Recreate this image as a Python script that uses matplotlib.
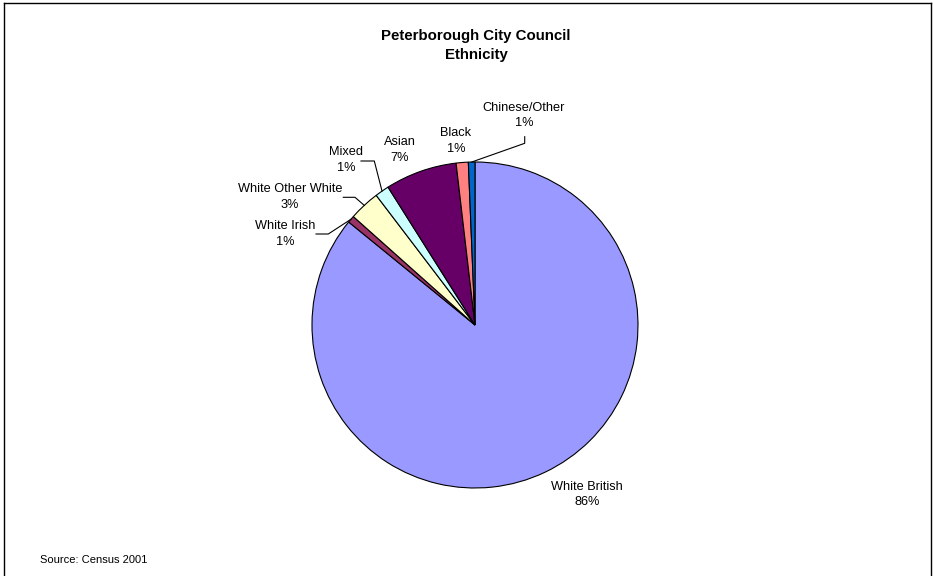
import numpy as np
import matplotlib
matplotlib.use("Agg")
import matplotlib.pyplot as plt
from matplotlib.lines import Line2D

plt.rcParams['font.family'] = ['Liberation Sans', 'DejaVu Sans']

categories = ["White British", "White Irish", "White Other White", "Mixed", "Asian", "Black", "Chinese/Other"]
values = [85.8, 0.7, 3.05, 1.4, 7.1, 1.2, 0.65]
pct_labels = ["86%", "1%", "3%", "1%", "7%", "1%", "1%"]
colors = ["#9999FF", "#993366", "#FFFFCC", "#CCFFFF", "#660066", "#FF8080", "#0066CC"]

W, H = 933, 576
fig = plt.figure(figsize=(W / 100, H / 100), dpi=100)
fig.patch.set_facecolor("white")

# frame border
fig.add_artist(Line2D([4 / W, 4 / W], [0, 1 - 3 / H], transform=fig.transFigure, color="black", lw=1))
fig.add_artist(Line2D([4 / W, 931 / W], [1 - 3 / H, 1 - 3 / H], transform=fig.transFigure, color="black", lw=1))
fig.add_artist(Line2D([931 / W, 931 / W], [0, 1 - 3 / H], transform=fig.transFigure, color="black", lw=1))

cx, cy, r = 475, 325, 163
ax = fig.add_axes([(cx - r) / W, (H - cy - r) / H, 2 * r / W, 2 * r / H])
wedges, _ = ax.pie(values, colors=colors, startangle=90, counterclock=False,
                   radius=1.0, wedgeprops=dict(edgecolor="black", linewidth=0.8))
ax.set_xlim(-1, 1)
ax.set_ylim(-1, 1)
ax.set_aspect("equal")
ax.axis("off")


def to_data(px, py):
    return (px - cx) / r, (cy - py) / r


# label positions (pixel centers) and optional elbow leader points
label_pos = {
    "White British": (587, 494.5, None),
    "White Irish": (285, 234, [(316, 234), (328.3, 234)]),
    "White Other White": (290, 197, [(343.3, 197.3), (355, 197.3)]),
    "Mixed": (346, 160, [(361, 161), (374.3, 161)]),
    "Asian": (400, 150, None),
    "Black": (456, 141, None),
    "Chinese/Other": (524, 115.5, [(524.7, 136.7), (524.7, 143.3)]),
}

for w, cat, pl in zip(wedges, categories, pct_labels):
    px, py, leader = label_pos[cat]
    x, y = to_data(px, py)
    ax.text(x, y, f"{cat}\n{pl}", ha="center", va="center", fontsize=9.2,
            linespacing=1.42, clip_on=False)
    if leader:
        mid = np.deg2rad((w.theta1 + w.theta2) / 2)
        ex, ey = np.cos(mid), np.sin(mid)
        pts = [to_data(*p) for p in leader] + [(ex, ey)]
        xs, ys = zip(*pts)
        ax.plot(xs, ys, color="black", lw=0.8, clip_on=False)

fig.text(476 / W, 1 - 36 / H, "Peterborough City Council", ha="center", va="center",
         fontsize=10.8, fontweight="bold")
fig.text(476 / W, 1 - 55 / H, "Ethnicity", ha="center", va="center",
         fontsize=10.8, fontweight="bold")
fig.text(40 / W, 1 - 560 / H, "Source: Census 2001", ha="left", va="center", fontsize=8)

fig.savefig("out.png", dpi=100, facecolor="white")
